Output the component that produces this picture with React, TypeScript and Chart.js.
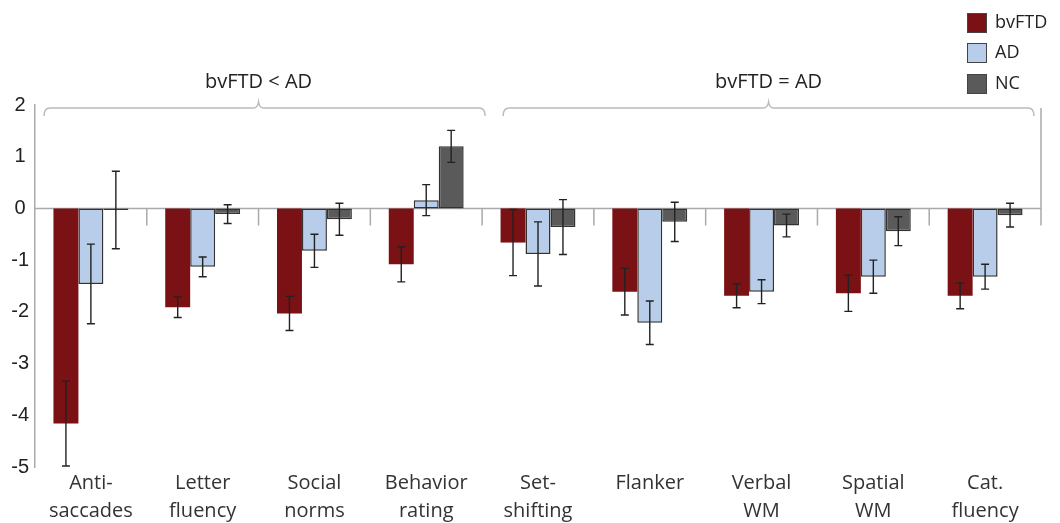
import React, { useEffect, useRef } from "react";
import { Chart, registerables } from "chart.js";

Chart.register(...registerables);

const categories: string[][] = [
  ["Anti-", "saccades"],
  ["Letter", "fluency"],
  ["Social", "norms"],
  ["Behavior", "rating"],
  ["Set-", "shifting"],
  ["Flanker"],
  ["Verbal", "WM"],
  ["Spatial", "WM"],
  ["Cat.", "fluency"],
];

const bvFTD = [-4.16, -1.91, -2.03, -1.08, -0.66, -1.61, -1.69, -1.64, -1.69];
const bvFTDErr = [0.82, 0.2, 0.33, 0.34, 0.64, 0.45, 0.23, 0.35, 0.25];
const AD = [-1.46, -1.13, -0.82, 0.16, -0.88, -2.21, -1.61, -1.32, -1.32];
const ADErr = [0.77, 0.19, 0.32, 0.3, 0.62, 0.42, 0.23, 0.32, 0.24];
const NC = [-0.03, -0.11, -0.21, 1.2, -0.36, -0.26, -0.33, -0.44, -0.13];
const NCErr = [0.75, 0.18, 0.31, 0.31, 0.53, 0.38, 0.22, 0.28, 0.23];

const seriesNames = ["bvFTD", "AD", "NC"];
const groupLabels = ["bvFTD < AD", "bvFTD = AD"];
const yMin = -5;
const yMax = 2;

const colors = ["#7a1114", "#b7cde9", "#5a5a5a"];
const borders = ["#7a1114", "#333333", "#333333"];

const overlayPlugin = {
  id: "overlay",
  beforeDatasetsDraw(chart: any) {
    const { ctx, chartArea, scales } = chart;
    const y0 = scales.y.getPixelForValue(0);
    const n = categories.length;
    const catW = (chartArea.right - chartArea.left) / n;
    ctx.save();
    ctx.strokeStyle = "#aaaaaa";
    ctx.lineWidth = 1.5;
    ctx.beginPath();
    ctx.moveTo(chartArea.left, y0);
    ctx.lineTo(chartArea.right, y0);
    for (let k = 1; k < n; k++) {
      const x = chartArea.left + k * catW;
      ctx.moveTo(x, y0);
      ctx.lineTo(x, y0 + 17);
    }
    ctx.moveTo(chartArea.right, chartArea.top + 3);
    ctx.lineTo(chartArea.right, y0 + 17);
    ctx.stroke();
    ctx.restore();
  },
  afterDatasetsDraw(chart: any) {
    const { ctx, scales } = chart;
    ctx.save();
    ctx.strokeStyle = "#222222";
    ctx.lineWidth = 1.4;
    chart.data.datasets.forEach((ds: any, i: number) => {
      const meta = chart.getDatasetMeta(i);
      meta.data.forEach((el: any, j: number) => {
        const v = ds.data[j];
        const e = ds.errors[j];
        const yt = scales.y.getPixelForValue(v + e);
        const yb = scales.y.getPixelForValue(v - e);
        const x = el.x;
        ctx.beginPath();
        ctx.moveTo(x, yt);
        ctx.lineTo(x, yb);
        ctx.moveTo(x - 4, yt);
        ctx.lineTo(x + 4, yt);
        ctx.moveTo(x - 4, yb);
        ctx.lineTo(x + 4, yb);
        ctx.stroke();
      });
    });
    ctx.restore();
  },
  afterDraw(chart: any) {
    const { ctx, chartArea } = chart;
    const n = categories.length;
    const catW = (chartArea.right - chartArea.left) / n;
    const b4 = chartArea.left + 4 * catW;
    const by = chartArea.top + 3;
    const drawBracket = (x1: number, x2: number, xm: number) => {
      ctx.beginPath();
      ctx.moveTo(x1, by + 8);
      ctx.quadraticCurveTo(x1, by, x1 + 6, by);
      ctx.lineTo(xm - 5, by);
      ctx.quadraticCurveTo(xm - 1, by, xm, by - 6);
      ctx.quadraticCurveTo(xm + 1, by, xm + 5, by);
      ctx.lineTo(x2 - 6, by);
      ctx.quadraticCurveTo(x2, by, x2, by + 8);
      ctx.stroke();
    };
    ctx.save();
    ctx.strokeStyle = "#bbbbbb";
    ctx.lineWidth = 1.5;
    const l1 = chartArea.left + 9;
    const r1 = b4 + 3;
    const l2 = b4 + 21;
    const r2 = chartArea.right - 7;
    const m1 = (chartArea.left + b4) / 2;
    const m2 = (l2 + r2) / 2;
    drawBracket(l1, r1, m1);
    drawBracket(l2, r2, m2);
    ctx.fillStyle = "#222222";
    ctx.font = "20px 'Open Sans'";
    ctx.textAlign = "center";
    ctx.textBaseline = "middle";
    ctx.fillText(groupLabels[0], m1, 82);
    ctx.fillText(groupLabels[1], m2, 82);

    // legend
    const lx = 967;
    const ly = [13, 43, 74];
    ctx.font = "18px 'Open Sans'";
    ctx.textAlign = "left";
    chart.data.datasets.forEach((ds: any, i: number) => {
      ctx.fillStyle = ds.backgroundColor;
      ctx.fillRect(lx, ly[i], 20, 20);
      ctx.strokeStyle = "#444444";
      ctx.lineWidth = 1;
      ctx.strokeRect(lx + 0.5, ly[i] + 0.5, 19, 19);
      ctx.fillStyle = "#222222";
      ctx.fillText(ds.label, 995, ly[i] + 10);
    });
    ctx.restore();
  },
};

export default function App() {
  const ref = useRef<HTMLCanvasElement | null>(null);
  useEffect(() => {
    if (!ref.current) return;
    const chart = new Chart(ref.current, {
      type: "bar",
      data: {
        labels: categories,
        datasets: [bvFTD, AD, NC].map((d, i) => ({
          label: seriesNames[i],
          data: d,
          errors: [bvFTDErr, ADErr, NCErr][i],
          backgroundColor: colors[i],
          borderColor: borders[i],
          borderWidth: i === 0 ? 0 : 1.5,
          borderSkipped: false,
          categoryPercentage: 0.67,
          barPercentage: 1,
        })) as any,
      },
      options: {
        animation: false,
        responsive: true,
        maintainAspectRatio: false,
        layout: { padding: { top: 105, right: 19, left: 0, bottom: 0 } },
        plugins: { legend: { display: false }, tooltip: { enabled: false } },
        scales: {
          x: {
            grid: { display: false, drawTicks: false },
            border: { display: false },
            ticks: {
              color: "#333333",
              font: { family: "'Open Sans'", size: 20, lineHeight: 1.4 },
              padding: 2,
              maxRotation: 0,
              autoSkip: false,
            },
            afterFit: (s: any) => {
              s.height = 56;
            },
          },
          y: {
            min: yMin,
            max: yMax,
            grid: { display: false, drawTicks: false },
            border: { display: true, color: "#aaaaaa", width: 1.5 },
            ticks: {
              stepSize: 1,
              color: "#222222",
              font: { family: "'Liberation Sans', Arial", size: 20 },
              crossAlign: "center",
              padding: 6,
            },
            afterFit: (s: any) => {
              s.width = 35;
            },
          },
        },
      },
      plugins: [overlayPlugin],
    });
    return () => chart.destroy();
  }, []);
  return (
    <div style={{ position: "absolute", left: 0, top: 0, width: 1060, height: 523 }}>
      <canvas ref={ref} />
    </div>
  );
}
